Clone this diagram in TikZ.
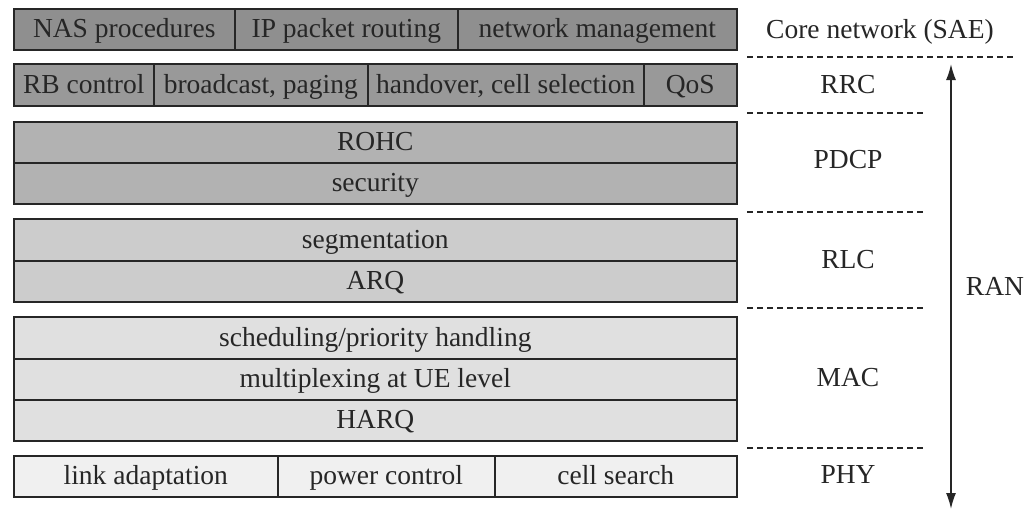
\documentclass[tikz,border=0pt]{standalone}
\usepackage{fontspec}
\setmainfont{Liberation Serif}
\usetikzlibrary{arrows.meta}
\definecolor{coreC}{gray}{0.56}
\definecolor{rrcC}{gray}{0.60}
\definecolor{pdcpC}{gray}{0.70}
\definecolor{rlcC}{gray}{0.80}
\definecolor{macC}{gray}{0.88}
\definecolor{phyC}{gray}{0.94}
\definecolor{lineC}{gray}{0.15}
\definecolor{txtC}{gray}{0.15}
\tikzset{
  cell/.style={draw=lineC, line width=1.6pt, anchor=north west, inner sep=0pt,
    text=txtC, font=\fontsize{27.5}{32}\selectfont, text height=21pt, text depth=4pt},
  lab/.style={text=txtC, font=\fontsize{27.5}{32}\selectfont, inner sep=0pt,
    text height=21pt, text depth=4pt},
  sep/.style={draw=lineC, line width=1.4pt, dash pattern=on 6pt off 4pt},
  ran/.style={draw=lineC, line width=1.6pt, {Latex[length=16pt,width=10pt]}-{Latex[length=16pt,width=10pt]}}
}
\begin{document}
\begin{tikzpicture}[x=1pt,y=-1pt]
\useasboundingbox (0,0) rectangle (1031,512);
% Core network row
\node[cell, fill=coreC, minimum width=221pt, minimum height=41pt] (nas) at (13,8) {NAS procedures};
\node[cell, fill=coreC, minimum width=223pt, minimum height=41pt] (ip) at (234,8) {IP packet routing};
\node[cell, fill=coreC, minimum width=279pt, minimum height=41pt] (nm) at (457,8) {network management};
% RRC row
\node[cell, fill=rrcC, minimum width=140pt, minimum height=42pt] (rb) at (13,63) {RB control};
\node[cell, fill=rrcC, minimum width=214pt, minimum height=42pt] (bc) at (153,63) {broadcast, paging};
\node[cell, fill=rrcC, minimum width=276pt, minimum height=42pt] (ho) at (367,63) {handover, cell selection};
\node[cell, fill=rrcC, minimum width=93pt, minimum height=42pt] (qos) at (643,63) {QoS};
% PDCP
\node[cell, fill=pdcpC, minimum width=723pt, minimum height=41pt] (rohc) at (13,121) {ROHC};
\node[cell, fill=pdcpC, minimum width=723pt, minimum height=41pt] (sec) at (13,162) {security};
% RLC
\node[cell, fill=rlcC, minimum width=723pt, minimum height=42pt] (seg) at (13,218) {segmentation};
\node[cell, fill=rlcC, minimum width=723pt, minimum height=41pt] (arq) at (13,260) {ARQ};
% MAC
\node[cell, fill=macC, minimum width=723pt, minimum height=42pt] (sch) at (13,316) {scheduling/priority handling};
\node[cell, fill=macC, minimum width=723pt, minimum height=41pt] (mux) at (13,358) {multiplexing at UE level};
\node[cell, fill=macC, minimum width=723pt, minimum height=41pt] (harq) at (13,399) {HARQ};
% PHY
\node[cell, fill=phyC, minimum width=264pt, minimum height=41pt] (la) at (13,455) {link adaptation};
\node[cell, fill=phyC, minimum width=217pt, minimum height=41pt] (pc) at (277,455) {power control};
\node[cell, fill=phyC, minimum width=242pt, minimum height=41pt] (cs) at (494,455) {cell search};
% layer labels
\node[lab] (lcore) at (880,30) {Core network (SAE)};
\node[lab] (lrrc) at (848,85) {RRC};
\node[lab] (lpdcp) at (848,160) {PDCP};
\node[lab] (lrlc) at (848,260) {RLC};
\node[lab] (lmac) at (848,378) {MAC};
\node[lab] (lphy) at (848,475) {PHY};
\node[lab] (lran) at (995,287) {RAN};
% separators
\coordinate (s1a) at (747,57);  \coordinate (s1b) at (1013,57);
\coordinate (s2a) at (747,113); \coordinate (s2b) at (923,113);
\coordinate (s3a) at (747,212); \coordinate (s3b) at (923,212);
\coordinate (s4a) at (747,308); \coordinate (s4b) at (923,308);
\coordinate (s5a) at (747,448); \coordinate (s5b) at (923,448);
\draw[sep] (s1a) -- (s1b);
\draw[sep] (s2a) -- (s2b);
\draw[sep] (s3a) -- (s3b);
\draw[sep] (s4a) -- (s4b);
\draw[sep] (s5a) -- (s5b);
% RAN arrow
\coordinate (rtop) at (951,64);
\coordinate (rbot) at (951,509);
\draw[ran] (rtop) -- (rbot);
\end{tikzpicture}
\end{document}
